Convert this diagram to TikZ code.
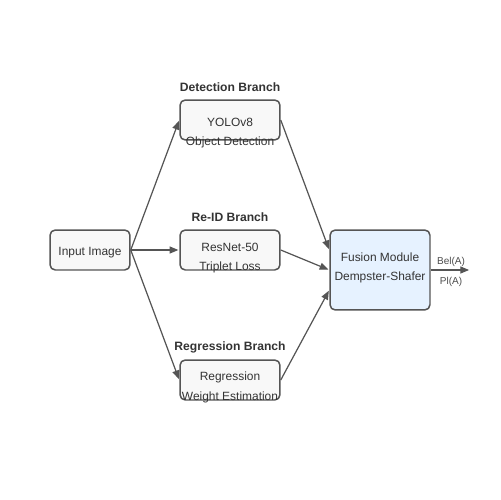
\documentclass[tikz,border=0pt]{standalone}
\usepackage{fontspec}
\setmainfont{Liberation Sans}
\usetikzlibrary{positioning, arrows.meta}
\definecolor{boxgray}{HTML}{F8F8F8}
\definecolor{fusionblue}{HTML}{E6F2FF}
\definecolor{linegray}{HTML}{555555}
\tikzset{
x=0.02cm, y=-0.02cm, % one unit is one pixel of the reference
>={Triangle[length=5pt, width=4pt]}, % filled arrow heads
every block/.style={draw=linegray, line width=0.85pt, rounded corners=3pt, fill=boxgray}, % the boxes
branch/.style={every block, minimum width=2cm, minimum height=0.8cm},
title/.style={font=\bfseries\fontsize{6.9}{8}\selectfont, text=black!80, yshift=-0.03cm},
body/.style={font=\fontsize{6.8}{8}\selectfont, text=black!80, yshift=-0.03cm},
tag/.style={font=\fontsize{5.7}{7}\selectfont, text=black!70, yshift=-0.02cm},
link/.style={->, draw=linegray, line width=0.7pt, shorten >=0.5pt},
}

\begin{document}
\begin{tikzpicture}
      \useasboundingbox (0,0) rectangle (500,500);
      % boxes
      \node[every block, minimum width=1.6cm, minimum height=0.8cm] (input) at (90,250) {};
      \node[branch] (det) at (230,120) {};
      \node[branch] (reid) at (230,250) {};
      \node[branch] (reg) at (230,380) {};
      \node[every block, fill=fusionblue, minimum width=2cm, minimum height=1.6cm] (fusion) at (380,270) {};
      \coordinate (out) at (470,270);

      % texts
      \node[body] at (90,251) {Input Image};
      \node[title] (dett) at (230,86) {Detection Branch};
      \node[body] at (230,121) {YOLOv8};
      \node[body] at (230,141) {Object Detection};
      \node[title] (reidt) at (230,216) {Re-ID Branch};
      \node[body] at (230,246) {ResNet-50};
      \node[body] at (230,266) {Triplet Loss};
      \node[title] (regt) at (230,346) {Regression Branch};
      \node[body] at (230,376) {Regression};
      \node[body] at (230,396) {Weight Estimation};
      \node[body] at (380,256) {Fusion Module};
      \node[body] at (380,276) {Dempster-Shafer};
      \node[tag] at (451,261) {Bel(A)};
      \node[tag] at (451,281) {Pl(A)};

      % connectors
      \draw[link] (input.east) -- (det.west);
      \draw[link] (input.east) -- (reid.west);
      \draw[link] (input.east) -- (reg.west);
      \draw[link] (det.east) -- ([yshift=0.4cm]fusion.west);
      \draw[link] (reid.east) -- (fusion.west);
      \draw[link] (reg.east) -- ([yshift=-0.4cm]fusion.west);
      \draw[link] (fusion.east) -- (out);
    \end{tikzpicture}
\end{document}
